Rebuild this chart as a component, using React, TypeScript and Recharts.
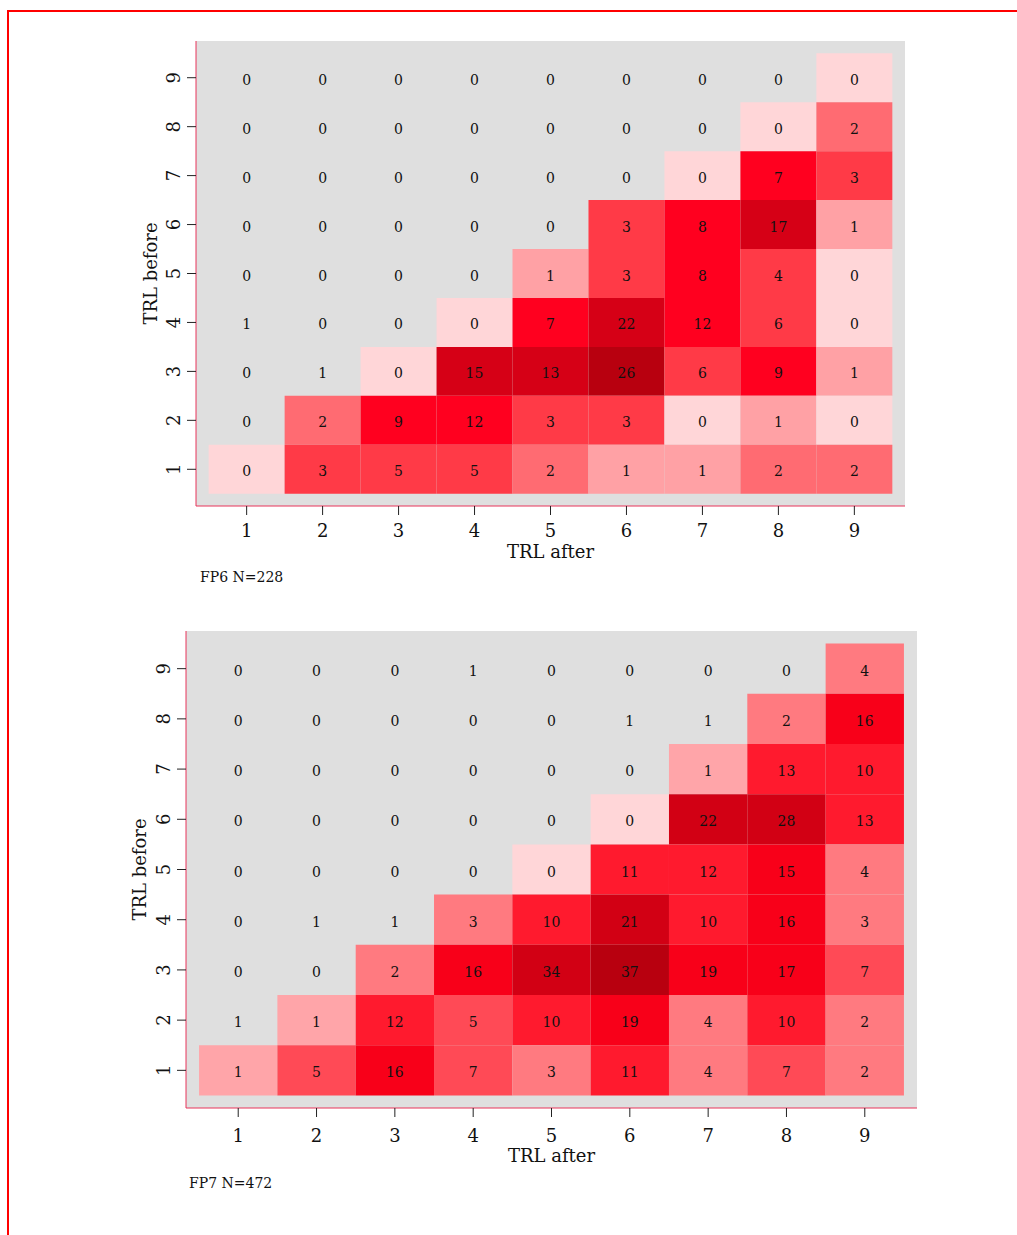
import { ScatterChart, Scatter, XAxis, YAxis, ReferenceArea } from 'recharts';

const FONT = '"DejaVu Serif", "Liberation Serif", serif';

// TRL levels on both axes
const TRL_LEVELS = [1, 2, 3, 4, 5, 6, 7, 8, 9];

// rows: TRL before 9 (top) down to 1, columns: TRL after 1..9
const FP6_COUNTS = [
  [0, 0, 0, 0, 0, 0, 0, 0, 0],
  [0, 0, 0, 0, 0, 0, 0, 0, 2],
  [0, 0, 0, 0, 0, 0, 0, 7, 3],
  [0, 0, 0, 0, 0, 3, 8, 17, 1],
  [0, 0, 0, 0, 1, 3, 8, 4, 0],
  [1, 0, 0, 0, 7, 22, 12, 6, 0],
  [0, 1, 0, 15, 13, 26, 6, 9, 1],
  [0, 2, 9, 12, 3, 3, 0, 1, 0],
  [0, 3, 5, 5, 2, 1, 1, 2, 2],
];

const FP7_COUNTS = [
  [0, 0, 0, 1, 0, 0, 0, 0, 4],
  [0, 0, 0, 0, 0, 1, 1, 2, 16],
  [0, 0, 0, 0, 0, 0, 1, 13, 10],
  [0, 0, 0, 0, 0, 0, 22, 28, 13],
  [0, 0, 0, 0, 0, 11, 12, 15, 4],
  [0, 1, 1, 3, 10, 21, 10, 16, 3],
  [0, 0, 2, 16, 34, 37, 19, 17, 7],
  [1, 1, 12, 5, 10, 19, 4, 10, 2],
  [1, 5, 16, 7, 3, 11, 4, 7, 2],
];

// colour bins: [upper bound, colour]
const FP6_BINS: [number, string][] = [
  [0, '#ffd6d8'],
  [1, '#ffa1a5'],
  [2, '#ff6b72'],
  [6, '#ff3a47'],
  [12, '#ff001f'],
  [22, '#d60016'],
  [999, '#b8000f'],
];

const FP7_BINS: [number, string][] = [
  [0, '#ffd6d8'],
  [1, '#ffa5a9'],
  [4, '#ff7a80'],
  [7, '#ff4a56'],
  [13, '#ff1a2e'],
  [19, '#f80019'],
  [34, '#d20014'],
  [999, '#b8000f'],
];

const GRAY = '#dfdfdf';
const AXIS_RED = '#e8355a';

const colorFor = (v: number, bins: [number, string][]) => {
  for (const [max, c] of bins) if (v <= max) return c;
  return bins[bins.length - 1][1];
};

const toCells = (counts: number[][]) => {
  const cells: { after: number; before: number; v: number }[] = [];
  counts.forEach((row, i) => {
    row.forEach((v, j) => {
      cells.push({ after: TRL_LEVELS[j], before: TRL_LEVELS[8 - i], v });
    });
  });
  return cells;
};

const YTick = ({ x, y, payload }: any) => (
  <text x={x} y={y} transform={`rotate(-90 ${x} ${y})`} textAnchor="middle"
    fontSize={18} fill="#111" fontFamily={FONT}>
    {payload.value}
  </text>
);

type PanelProps = {
  counts: number[][];
  bins: [number, string][];
  top: number;
  width: number;
  height: number;
  margin: { top: number; right: number; bottom: number; left: number };
  xTickMargin: number;
  xTitleGap: number;
  yTitleGap: number;
};

const HeatPanel = ({ counts, bins, top, width, height, margin, xTickMargin, xTitleGap, yTitleGap }: PanelProps) => {
  const cells = toCells(counts);
  return (
    <div style={{ position: 'absolute', left: 0, top }}>
      <ScatterChart width={width} height={height} margin={margin}>
        <XAxis
          type="number" dataKey="after" domain={[1 / 3, 29 / 3]} ticks={TRL_LEVELS}
          allowDataOverflow height={60}
          axisLine={{ stroke: AXIS_RED }} tickLine={{ stroke: '#222' }}
          tickSize={9} tickMargin={xTickMargin}
          tick={{ fill: '#111', fontSize: 18, fontFamily: FONT }}
          label={{
            content: ({ viewBox }: any) => (
              <text x={viewBox.x + viewBox.width / 2} y={viewBox.y + xTitleGap} textAnchor="middle"
                fontSize={18} fill="#111" fontFamily={FONT}>TRL after</text>
            ),
          }}
        />
        <YAxis
          type="number" dataKey="before" domain={[0.25, 9.75]} ticks={TRL_LEVELS}
          allowDataOverflow width={60}
          axisLine={{ stroke: AXIS_RED }} tickLine={{ stroke: '#222' }}
          tickSize={9} tickMargin={7} tick={<YTick />}
          label={{
            content: ({ viewBox }: any) => {
              const x = viewBox.x + viewBox.width - yTitleGap;
              const y = viewBox.y + viewBox.height / 2;
              return (
                <text x={x} y={y} transform={`rotate(-90 ${x} ${y})`} textAnchor="middle"
                  fontSize={18} fill="#111" fontFamily={FONT}>TRL before</text>
              );
            },
          }}
        />
        <ReferenceArea x1={1 / 3} x2={29 / 3} y1={0.25} y2={9.75} fill={GRAY} fillOpacity={1}
          stroke="none" ifOverflow="visible" />
        {cells.filter(c => c.after >= c.before).map(c => (
          <ReferenceArea key={`${c.after}-${c.before}`}
            x1={c.after - 0.5} x2={c.after + 0.5} y1={c.before - 0.5} y2={c.before + 0.5}
            fill={colorFor(c.v, bins)} fillOpacity={1} stroke="none" ifOverflow="visible" />
        ))}
        <Scatter
          data={cells}
          isAnimationActive={false}
          shape={(p: any) => (
            <text x={p.cx} y={p.cy + 2} textAnchor="middle" dominantBaseline="central"
              fontSize={14} fill="#111" fontFamily={FONT}>
              {p.payload.v}
            </text>
          )}
        />
      </ScatterChart>
    </div>
  );
};

export default function App() {
  return (
    <div style={{ position: 'absolute', left: 0, top: 0, width: 1017, height: 1235, background: '#fff', overflow: 'hidden' }}>
      <div style={{ position: 'absolute', left: 7, top: 10, width: 1020, height: 1240,
        borderTop: '2px solid #ff0000', borderLeft: '2px solid #ff0000' }} />

      <HeatPanel counts={FP6_COUNTS} bins={FP6_BINS} top={0} width={1017} height={600}
        margin={{ top: 41, right: 112, bottom: 34, left: 136 }}
        xTickMargin={9} xTitleGap={52} yTitleGap={39} />

      <HeatPanel counts={FP7_COUNTS} bins={FP7_BINS} top={600} width={1017} height={635}
        margin={{ top: 31, right: 100, bottom: 67, left: 126 }}
        xTickMargin={12} xTitleGap={54} yTitleGap={40} />

      <svg width={1017} height={1235} style={{ position: 'absolute', left: 0, top: 0, pointerEvents: 'none' }}>
        <text x={200} y={582} fontSize={14} fill="#111" fontFamily={FONT}>FP6 N=228</text>
        <text x={189} y={1188} fontSize={14} fill="#111" fontFamily={FONT}>FP7 N=472</text>
      </svg>
    </div>
  );
}
